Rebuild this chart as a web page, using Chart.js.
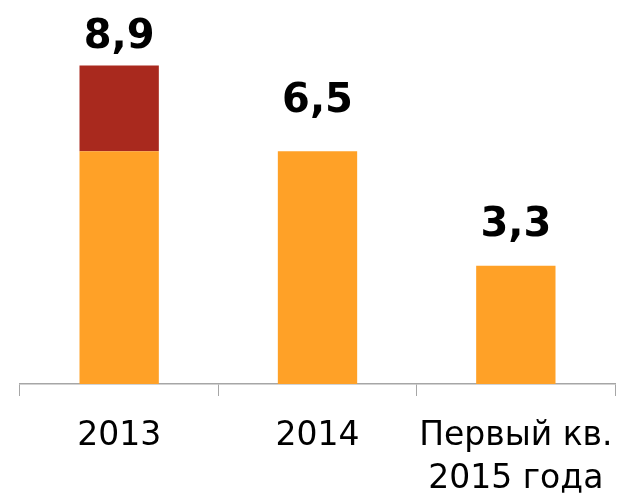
<!DOCTYPE html>
<html>
<head>
<meta charset="utf-8">
<script src="https://cdn.jsdelivr.net/npm/chart.js@4"></script>
<style>
  html, body { margin: 0; padding: 0; background: #fff; }
  #wrap { width: 625px; height: 498px; }
</style>
</head>
<body>
<div id="wrap"><canvas id="chart"></canvas></div>
<script>
// data
const categories = [['2013'], ['2014'], ['Первый кв.', '2015 года']]
const baseValues = [6.5, 6.5, 3.3]
const extraValues = [2.4, 0, 0]
const totalLabels = ['8,9', '6,5', '3,3']

// draws the total above each stack
const totalsPlugin = {
    id: 'totals',
    afterDatasetsDraw(chart, args, opts) {
        const ctx = chart.ctx
        const x = chart.scales.x
        const y = chart.scales.y
        ctx.save()
        ctx.font = 'bold 40px "DejaVu Sans"'
        ctx.fillStyle = '#000'
        ctx.textAlign = 'center'
        ctx.textBaseline = 'alphabetic'
        totalLabels.forEach((txt, i) => {
            const total = baseValues[i] + extraValues[i]
            ctx.fillText(txt, x.getPixelForValue(i), y.getPixelForValue(total) - opts.gaps[i])
        })
        ctx.restore()
    }
}

const config = {
    type: 'bar',
    data: {
        labels: categories,
        datasets: [
            {
                label: 'base',
                data: baseValues,
                backgroundColor: '#FFA127',
                categoryPercentage: 1,
                barPercentage: 0.4,
            },
            {
                label: 'extra',
                data: extraValues,
                backgroundColor: '#A9291E',
                categoryPercentage: 1,
                barPercentage: 0.4,
            }
        ]
    },
    options: {
        responsive: true,
        maintainAspectRatio: false,
        animation: false,
        layout: { padding: { left: 20, right: 10, top: 26, bottom: 0 } },
        plugins: {
            legend: { display: false },
            tooltip: { enabled: false },
            totals: { gaps: [17, 39, 30] }
        },
        scales: {
            x: {
                stacked: true,
                grid: {
                    display: true,
                    drawOnChartArea: false,
                    drawTicks: true,
                    tickLength: 12,
                    color: '#A6A6A6',
                    offset: true
                },
                border: { display: true, color: '#A6A6A6', width: 1.5 },
                ticks: {
                    color: '#000',
                    font: { family: '"DejaVu Sans"', size: 33, lineHeight: 1.3 },
                    padding: 19,
                    maxRotation: 0,
                    autoSkip: false
                },
                afterFit(scale) {
                    scale.height = 114
                    scale.paddingLeft = 0
                    scale.paddingRight = 0
                }
            },
            y: {
                stacked: true,
                display: false,
                min: 0,
                max: 10
            }
        }
    },
    plugins: [totalsPlugin]
}

new Chart(document.getElementById('chart'), config)
</script>
</body>
</html>
